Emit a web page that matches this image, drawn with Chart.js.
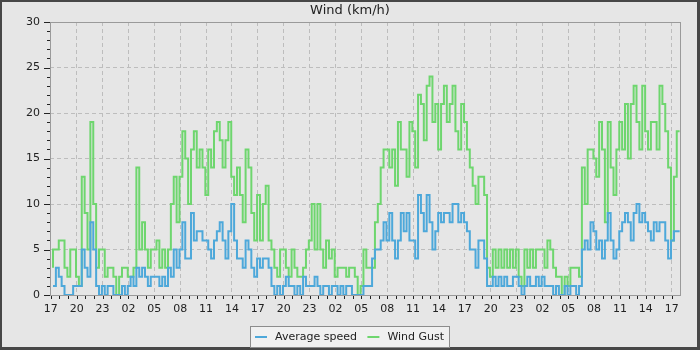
<!DOCTYPE html>
<html>
<head>
<meta charset="utf-8">
<script src="https://cdn.jsdelivr.net/npm/chart.js@4.4.1/dist/chart.umd.min.js"></script>
<style>
  html, body { margin: 0; padding: 0; background: #474747; }
  canvas { display: block; }
</style>
</head>
<body>
<canvas id="windChart" width="700" height="350"></canvas>
<script>
// hours after 17:00 on the first day, one reading every 20 minutes
const startHour = 0.25;
const stepHours = 1 / 3;

const hourLabels = ['17', '20', '23', '02', '05', '08', '11', '14', '17', '20', '23', '02', '05',
  '08', '11', '14', '17', '20', '23', '02', '05', '08', '11', '14', '17'];

// km/h, 3 readings per hour, 6 hours per line
const avgSpeed = [
  1,1,3, 2,1,0, 0,0,1, 1,1,5, 3,2,8, 5,1,0,
  1,0,1, 1,0,0, 0,1,0, 1,2,1, 3,2,3, 2,1,2,
  2,2,1, 2,1,3, 2,5,3, 5,8,4, 4,9,6, 7,7,6,
  6,5,4, 6,7,8, 6,4,7, 10,6,4, 4,3,6, 5,3,2,
  4,3,4, 4,3,1, 0,1,0, 1,2,1, 1,0,1, 0,2,1,
  1,1,2, 1,0,1, 1,0,1, 1,0,1, 0,1,1, 0,0,0,
  0,1,1, 1,4,5, 5,6,8, 6,9,6, 4,6,9, 7,9,6,
  6,4,11, 9,7,11, 8,5,7, 9,8,9, 9,8,10, 10,8,9,
  8,7,5, 5,3,6, 6,4,1, 1,2,1, 2,1,2, 1,1,2,
  2,1,0, 1,2,1, 1,2,1, 2,1,1, 1,0,1, 0,0,1,
  0,1,1, 0,1,5, 6,5,8, 7,5,6, 4,6,9, 6,4,5,
  7,8,9, 8,6,9, 10,8,9, 8,7,6, 8,7,8, 8,6,4,
  6,7,7
];

const windGust = [
  3,5,5, 6,6,3, 2,5,5, 2,1,13, 9,5,19, 10,3,5,
  5,2,3, 3,2,0, 2,3,3, 2,2,3, 14,5,8, 5,3,5,
  5,6,3, 5,3,5, 10,13,8, 13,18,15, 10,16,18, 14,16,14,
  11,16,14, 18,19,17, 14,17,19, 13,11,14, 11,8,16, 14,9,6,
  11,6,10, 12,6,5, 3,2,5, 5,3,2, 5,3,2, 2,3,5,
  6,10,5, 10,5,3, 6,4,5, 2,3,3, 3,2,3, 3,2,0,
  1,5,3, 3,3,8, 10,14,16, 16,14,16, 12,19,16, 16,13,19,
  18,14,22, 21,17,23, 24,19,21, 16,21,23, 19,21,23, 18,16,21,
  19,16,14, 12,10,13, 13,11,3, 2,5,3, 5,3,5, 3,5,3,
  5,2,1, 5,3,5, 3,5,5, 5,3,6, 5,3,2, 2,0,2,
  1,3,3, 3,2,14, 10,16,16, 15,13,19, 16,8,19, 14,11,16,
  19,16,21, 15,21,23, 19,16,23, 18,16,19, 19,16,23, 21,18,14,
  6,13,18
];

const toPoints = arr => arr.map((v, i) => ({ x: startHour + i * stepHours, y: v }));

const hourTicks = Array.from({ length: 73 }, (_, i) => i);
const speedTicks = Array.from({ length: 31 }, (_, i) => i);

const framePlugin = {
  id: 'frame',
  beforeDraw(chart) {
    const { ctx, width, height } = chart;
    ctx.save();
    ctx.fillStyle = '#474747';
    ctx.fillRect(0, 0, width, height);
    ctx.fillStyle = '#e6e6e6';
    ctx.fillRect(2, 2, width - 5, height - 5);
    ctx.restore();
  },
  beforeDatasetsDraw(chart) {
    const { ctx, chartArea: a, scales } = chart;
    const l = Math.round(a.left), r = Math.round(a.right);
    const t = Math.round(a.top), b = Math.round(a.bottom);
    ctx.save();
    ctx.lineWidth = 1;
    ctx.strokeStyle = '#9a9a9a';
    ctx.strokeRect(l + 0.5, t + 0.5, r - l, b - t);
    // tick marks
    ctx.strokeStyle = '#222';
    ctx.beginPath();
    speedTicks.forEach(v => {
      const y = Math.round(scales.y.getPixelForValue(v)) + 0.5;
      const len = v % 5 === 0 ? 6 : 3;
      ctx.moveTo(l - len, y);
      ctx.lineTo(l, y);
    });
    hourTicks.forEach(h => {
      const x = Math.round(scales.x.getPixelForValue(h)) + 0.5;
      ctx.moveTo(x, b + 1);
      ctx.lineTo(x, b + 4);
    });
    ctx.stroke();
    ctx.restore();
  },
  afterDraw(chart) {
    const { ctx, width, height } = chart;
    ctx.save();
    ctx.font = '11px "DejaVu Sans"';
    const items = chart.data.datasets.map(d => ({
      label: d.label, color: d.borderColor, w: ctx.measureText(d.label).width
    }));
    const lineW = 12, gapText = 8, gapItem = 10.5, pad = 5;
    const total = items.reduce((s, it) => s + lineW + gapText + it.w, 0) + gapItem * (items.length - 1) + pad * 2;
    const left = Math.round(width / 2 - total / 2);
    const top = height - 24;
    ctx.fillStyle = '#f0f0f0';
    ctx.fillRect(left, top, total, 21);
    ctx.strokeStyle = '#8c8c8c';
    ctx.lineWidth = 1;
    ctx.strokeRect(left + 0.5, top + 0.5, Math.round(total), 21);
    let x = left + pad;
    const cy = top + 11;
    items.forEach(it => {
      ctx.strokeStyle = it.color;
      ctx.lineWidth = 2;
      ctx.beginPath();
      ctx.moveTo(x, cy);
      ctx.lineTo(x + lineW, cy);
      ctx.stroke();
      ctx.fillStyle = '#222';
      ctx.textBaseline = 'middle';
      ctx.fillText(it.label, x + lineW + gapText, cy);
      x += lineW + gapText + it.w + gapItem;
    });
    ctx.restore();
  }
};

Chart.defaults.font.family = '"DejaVu Sans"';
Chart.defaults.font.size = 11;
Chart.defaults.color = '#222';

const ctx = document.getElementById('windChart').getContext('2d');
const windChart = new Chart(ctx, {
  type: 'line',
  data: {
    datasets: [{
      label: 'Average speed',
      data: toPoints(avgSpeed),
      borderColor: '#4da8da',
      borderWidth: 2,
      pointRadius: 0,
      stepped: 'after',
      fill: false
    }, {
      label: 'Wind Gust',
      data: toPoints(windGust),
      borderColor: '#6ed66e',
      borderWidth: 2,
      pointRadius: 0,
      stepped: 'after',
      fill: false
    }]
  },
  options: {
    responsive: false,
    animation: false,
    layout: { padding: { left: 0, right: 0, top: 0, bottom: 30 } },
    plugins: {
      legend: { display: false },
      tooltip: { enabled: false },
      title: {
        display: true,
        text: 'Wind (km/h)',
        color: '#222',
        font: { size: 13, weight: 'normal', lineHeight: 1.2 },
        padding: { top: 3, bottom: 3.4 }
      }
    },
    scales: {
      x: {
        type: 'linear',
        min: -0.1,
        max: 72.96,
        afterBuildTicks: s => { s.ticks = hourTicks.map(v => ({ value: v })); },
        afterFit: s => { s.height = 25; },
        ticks: {
          autoSkip: false,
          maxRotation: 0,
          padding: 8,
          callback: v => (v % 3 === 0 ? hourLabels[v / 3] : '')
        },
        grid: {
          drawTicks: false,
          color: c => (c.tick && c.tick.value % 3 === 0 && c.tick.value > 0 ? '#bdbdbd' : 'transparent')
        },
        border: { display: false, dash: [4, 3] }
      },
      y: {
        min: 0,
        max: 30,
        afterBuildTicks: s => { s.ticks = speedTicks.map(v => ({ value: v })); },
        afterFit: s => { s.width = 50; },
        ticks: {
          autoSkip: false,
          padding: 10,
          callback: v => (v % 5 === 0 ? String(v) : '')
        },
        grid: {
          drawTicks: false,
          color: c => (c.tick && c.tick.value % 5 === 0 && c.tick.value > 0 && c.tick.value < 30 ? '#bdbdbd' : 'transparent')
        },
        border: { display: false, dash: [4, 3] }
      },
      yRight: {
        position: 'right',
        afterFit: s => { s.width = 20; },
        ticks: { display: false },
        grid: { display: false, drawTicks: false },
        border: { display: false }
      }
    }
  },
  plugins: [framePlugin]
});
</script>
</body>
</html>
